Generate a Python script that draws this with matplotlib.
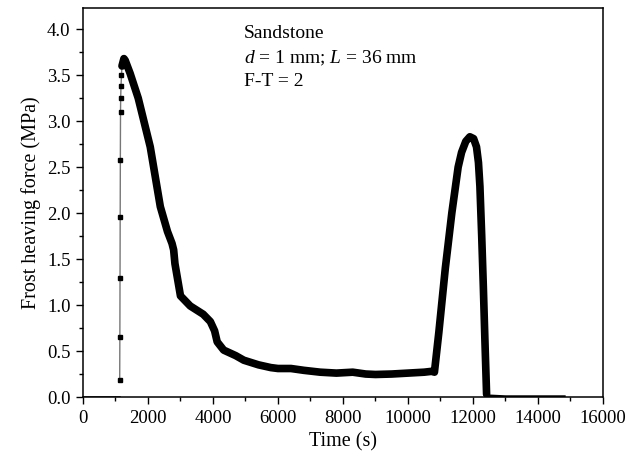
import numpy as np
import matplotlib.pyplot as plt
from matplotlib.ticker import MultipleLocator, FormatStrFormatter

plt.rcParams['font.family'] = ['Liberation Serif', 'DejaVu Serif']
plt.rcParams['mathtext.fontset'] = 'custom'
plt.rcParams['mathtext.rm'] = 'Liberation Serif'
plt.rcParams['mathtext.it'] = 'Liberation Serif:italic'

# baseline before loading
t_base = [0, 300, 600, 900, 1120]
f_base = [0, 0, 0, 0, 0]

# sparse readings on the initial rise
t_rise = [1130, 1135, 1140, 1145, 1150, 1155, 1160, 1170, 1185, 1200]
f_rise = [0.18, 0.65, 1.29, 1.96, 2.58, 3.10, 3.25, 3.38, 3.50, 3.60]

# main frost heaving curve
t_main = [1200, 1260, 1300, 1450, 1700, 2070, 2380, 2600, 2740, 2790, 2830, 3000,
          3300, 3700, 3920, 4050, 4130, 4330, 4700, 4950, 5400, 5780, 6000, 6400,
          6800, 7300, 7800, 8300, 8700, 9000, 9500, 10000, 10500, 10750, 10815,
          10950, 11150, 11350, 11545, 11650, 11780, 11905, 12020, 12110, 12170,
          12215, 12270, 12320, 12370, 12420]
f_main = [3.60, 3.68, 3.66, 3.52, 3.25, 2.72, 2.07, 1.80, 1.67, 1.60, 1.45, 1.10,
          0.99, 0.90, 0.82, 0.72, 0.60, 0.51, 0.45, 0.40, 0.35, 0.32, 0.31, 0.31,
          0.29, 0.27, 0.26, 0.27, 0.25, 0.245, 0.25, 0.26, 0.27, 0.28, 0.27,
          0.70, 1.40, 2.00, 2.50, 2.66, 2.78, 2.83, 2.81, 2.72, 2.55,
          2.29, 1.75, 1.20, 0.60, 0.03]

# tail after thawing
t_tail = [12420, 13000, 13600, 14200, 14800]
f_tail = [0.01, 0.0, 0.0, 0.0, 0.0]

fig = plt.figure(figsize=(6.31, 4.61), dpi=100)
ax = fig.add_axes([0.1315, 0.1388, 0.824, 0.8438])

ax.plot(t_base, f_base, color='black', lw=1.8)
ax.plot(t_rise, f_rise, color='#777777', lw=1.0, marker='s', ms=3.5,
        mfc='black', mec='black')
ax.plot(t_main, f_main, color='black', lw=5.5, solid_capstyle='round',
        solid_joinstyle='round')
ax.plot(t_tail, f_tail, color='black', lw=2.5)

ax.set_xlim(0, 16000)
ax.set_ylim(0, 4.23)
ax.xaxis.set_major_locator(MultipleLocator(2000))
ax.xaxis.set_minor_locator(MultipleLocator(1000))
ax.yaxis.set_major_locator(MultipleLocator(0.5))
ax.yaxis.set_minor_locator(MultipleLocator(0.25))
ax.yaxis.set_major_formatter(FormatStrFormatter('%.1f'))
ax.tick_params(which='major', direction='out', length=5, width=1,
               labelsize=13.5, pad=4)
ax.tick_params(which='minor', direction='out', length=3, width=1)
for s in ax.spines.values():
    s.set_linewidth(1.1)

ax.set_xlabel('Time (s)', fontsize=14.5, labelpad=4)
ax.set_ylabel('Frost heaving force (MPa)', fontsize=14.5, labelpad=4)

ax.text(0.31, 0.957, 'Sandstone', transform=ax.transAxes, fontsize=14,
        va='top')
ax.text(0.31, 0.895, r'$d$ = 1 mm; $L$ = 36 mm', transform=ax.transAxes,
        fontsize=14, va='top')
ax.text(0.31, 0.834, 'F-T = 2', transform=ax.transAxes, fontsize=14, va='top')

fig.savefig('out.png', dpi=100)
